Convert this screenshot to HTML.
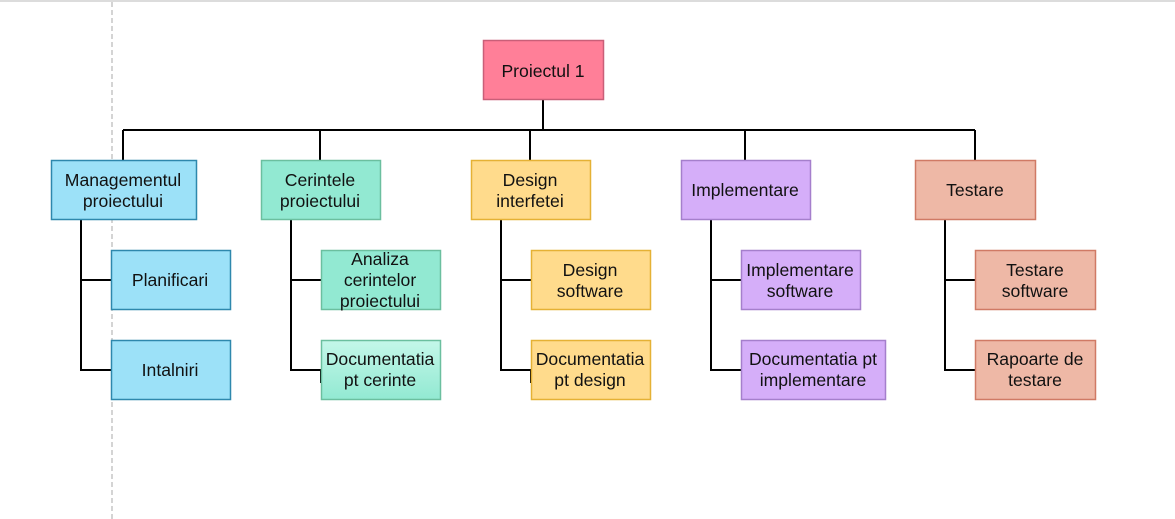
<!DOCTYPE html>
<html><head><meta charset="utf-8"><style>
html,body{margin:0;padding:0;background:#fff;width:1175px;height:519px;overflow:hidden}
svg text{font-family:"Liberation Sans",Arial,sans-serif;font-size:17.6px;fill:#111;text-anchor:middle}
</style></head><body>
<svg width="1175" height="519" xmlns="http://www.w3.org/2000/svg">
<defs><linearGradient id="g1" x1="0" y1="0" x2="0" y2="1"><stop offset="0" stop-color="#c4f7e9"/><stop offset="1" stop-color="#92e9d2"/></linearGradient></defs>
<line x1="0" y1="1" x2="1175" y2="1" stroke="#dcdcdc" stroke-width="2"/>
<line x1="112" y1="2" x2="112" y2="519" stroke="#d4d4d4" stroke-width="2" stroke-dasharray="5,3"/>
<g stroke="#000" stroke-width="2" fill="none">
<path d="M543 100V130M123 130H975M123 130V160M320 130V160M530 130V160M745 130V160M975 130V160"/>
<path d="M81 219V370H111M81 280H111"/>
<path d="M291 219V370H321V383M291 280H321"/>
<path d="M501 219V370H531V383M501 280H531"/>
<path d="M711 219V370H741M711 280H741"/>
<path d="M945 219V370H975M945 280H975"/>
</g>
<g stroke-width="1.5">
<rect x="483.5" y="40.5" width="120" height="59" fill="#ff7f98" stroke="#c95f78"/>
<rect x="51.5" y="160.5" width="145" height="59" fill="#9ce1f8" stroke="#2e88ad"/>
<rect x="111.5" y="250.5" width="119" height="59" fill="#9ce1f8" stroke="#2e88ad"/>
<rect x="111.5" y="340.5" width="119" height="59" fill="#9ce1f8" stroke="#2e88ad"/>
<rect x="261.5" y="160.5" width="119" height="59" fill="#92e9d2" stroke="#6bbf9f"/>
<rect x="321.5" y="250.5" width="119" height="59" fill="#92e9d2" stroke="#6bbf9f"/>
<rect x="321.5" y="340.5" width="119" height="59" fill="url(#g1)" stroke="#6bbf9f"/>
<rect x="471.5" y="160.5" width="119" height="59" fill="#ffdb8c" stroke="#e5b135"/>
<rect x="531.5" y="250.5" width="119" height="59" fill="#ffdb8c" stroke="#e5b135"/>
<rect x="531.5" y="340.5" width="119" height="59" fill="#ffdb8c" stroke="#e5b135"/>
<rect x="681.5" y="160.5" width="129" height="59" fill="#d5aef9" stroke="#a57fcc"/>
<rect x="741.5" y="250.5" width="119" height="59" fill="#d5aef9" stroke="#a57fcc"/>
<rect x="741.5" y="340.5" width="144" height="59" fill="#d5aef9" stroke="#a57fcc"/>
<rect x="915.5" y="160.5" width="120" height="59" fill="#eeb8a6" stroke="#d07a65"/>
<rect x="975.5" y="250.5" width="120" height="59" fill="#eeb8a6" stroke="#d07a65"/>
<rect x="975.5" y="340.5" width="120" height="59" fill="#eeb8a6" stroke="#d07a65"/>
</g>
<text x="543" y="77">Proiectul 1</text>
<text x="123" y="186">Managementul</text><text x="123" y="207">proiectului</text>
<text x="170" y="286">Planificari</text>
<text x="170" y="376">Intalniri</text>
<text x="320" y="186">Cerintele</text><text x="320" y="207">proiectului</text>
<text x="380" y="265">Analiza</text><text x="380" y="286">cerintelor</text><text x="380" y="307">proiectului</text>
<text x="380" y="365">Documentatia</text><text x="380" y="386">pt cerinte</text>
<text x="530" y="186">Design</text><text x="530" y="207">interfetei</text>
<text x="590" y="276">Design</text><text x="590" y="297">software</text>
<text x="590" y="365">Documentatia</text><text x="590" y="386">pt design</text>
<text x="745" y="196">Implementare</text>
<text x="800" y="276">Implementare</text><text x="800" y="297">software</text>
<text x="813" y="365">Documentatia pt</text><text x="813" y="386">implementare</text>
<text x="975" y="196">Testare</text>
<text x="1035" y="276">Testare</text><text x="1035" y="297">software</text>
<text x="1035" y="365">Rapoarte de</text><text x="1035" y="386">testare</text>
</svg>
</body></html>
